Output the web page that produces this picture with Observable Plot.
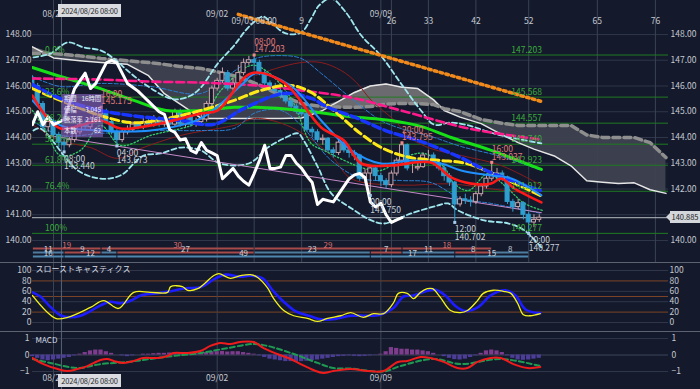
<!DOCTYPE html>
<html><head><meta charset="utf-8">
<script src="https://cdn.jsdelivr.net/npm/d3@7"></script>
<script src="https://cdn.jsdelivr.net/npm/@observablehq/plot@0.6"></script>
<style>
html,body{margin:0;padding:0;background:#141a2c;}
#chart{position:relative;width:700px;height:389px;background:#141a2c;overflow:hidden;font-family:"Noto Sans CJK JP","DejaVu Sans",sans-serif;}
#chart svg{position:absolute;left:0;overflow:visible;}
.cursor{position:absolute;left:58px;width:63px;height:13px;background:#d9dbe0;color:#2a2a2a;font-size:7.5px;line-height:13px;text-align:center;white-space:nowrap;overflow:hidden;letter-spacing:-0.2px;}
.sep{position:absolute;left:0;width:700px;height:1px;background:#5c626f;}
.pbox{position:absolute;left:670px;width:30px;height:12px;background:#d3d6db;color:#222;font-size:7.5px;line-height:12px;text-align:center;white-space:nowrap;}
.pbox:before{content:"";position:absolute;left:-4px;top:2px;border-top:4px solid transparent;border-bottom:4px solid transparent;border-right:4px solid #d3d6db;}
.info{position:absolute;left:62px;top:94px;width:41px;height:43px;background:rgba(140,100,195,0.62);color:#f0eef8;font-size:6.3px;line-height:10.5px;padding:0 2px;box-sizing:border-box;white-space:nowrap;}
.info div{display:flex;justify-content:space-between;}
</style></head><body><div id="chart"></div>
<script>
const FONT = '"Noto Sans CJK JP","DejaVu Sans",sans-serif';
// ---------- data ----------
const firstBar = -4;
const open = [146.3,146.0,145.3,144.4,144.6,144.1,143.8,143.7,143.9,144.2,144.5,144.4,144.7,144.9,145.0,144.6,144.2,143.9,144.2,144.3,144.5,144.4,144.6,144.5,144.7,144.5,
144.6,144.5,145.0,144.5,144.8,144.5,144.6,144.7,145.3,145.9,146.2,146.5,145.9,146.1,146.5,146.9,147.0,146.9,146.5,146.1,145.95,145.8,145.6,145.4,145.2,145.0,144.9,144.3,144.2,143.9,143.95,143.5,143.4,143.8,143.5,143.4,143.3,142.4,142.6,142.8,142.5,142.3,142.15,142.6,143.1,143.7,142.8,142.8,142.85,143.3,143.3,143.0,142.8,142.5,142.25,141.4,141.6,141.55,141.5,141.8,142.1,142.4,142.55,142.6,142.45,141.5,141.3,141.45,141.0,140.7,140.8];
const close = [146.0,145.3,144.4,144.6,144.1,143.8,143.7,143.9,144.2,144.5,144.4,144.7,144.9,145.0,144.6,144.2,143.9,144.2,144.3,144.5,144.4,144.6,144.5,144.7,144.5,144.6,
144.5,145.0,144.5,144.8,144.5,144.6,144.7,145.3,145.9,146.2,146.5,145.9,146.1,146.5,146.9,147.0,146.9,146.5,146.1,145.95,145.8,145.6,145.4,145.2,145.0,144.9,144.3,144.2,143.9,143.95,143.5,143.4,143.8,143.5,143.4,143.3,142.4,142.6,142.8,142.5,142.3,142.15,142.6,143.1,143.7,142.8,142.8,142.85,143.3,143.3,143.0,142.8,142.5,142.25,141.4,141.6,141.55,141.5,141.8,142.1,142.4,142.55,142.6,142.45,141.5,141.3,141.45,141.0,140.7,140.8,140.885];
const high = [146.4,146.1,145.4,144.8,144.7,144.2,143.95,144.0,144.3,144.6,144.7,144.8,145.0,145.175,145.1,144.7,144.3,144.3,144.45,144.6,144.6,144.75,144.7,144.85,144.8,144.7,
144.7,145.1,145.1,144.9,144.9,144.75,144.9,145.4,146.0,146.3,
146.7,146.6,146.3,146.8,147.05,147.15,147.203,147.0,146.6,146.2,
146.1,145.9,145.7,145.5,145.3,145.15,145.0,144.4,144.3,144.1,
144.0,143.6,143.9,143.9,143.6,143.5,143.35,142.75,142.9,142.9,
142.6,142.4,142.7,143.2,143.795,143.75,143.0,143.05,143.4,143.5,
143.4,143.1,142.9,142.6,142.3,141.7,141.8,141.7,141.9,142.2,
142.55,143.037,142.8,142.7,142.5,141.6,141.6,141.5,141.1,141.0,141.0];
const low = [145.9,145.2,144.3,144.2,144.0,143.6,143.44,143.6,143.8,144.1,144.3,144.3,144.6,144.8,144.5,144.1,143.673,143.8,144.1,144.2,144.3,144.3,144.4,144.4,144.4,144.4,
144.35,144.4,144.4,144.4,144.4,144.4,144.5,144.6,145.2,145.8,
146.1,145.8,145.8,146.0,146.4,146.8,146.6,146.4,146.0,145.8,
145.7,145.5,145.3,145.1,144.9,144.8,144.2,144.0,143.8,143.7,
143.4,143.2,143.3,143.4,143.2,143.1,142.3,142.2,141.75,142.3,
142.1,142.0,142.05,142.5,143.0,142.7,142.6,142.7,142.8,143.1,
142.9,142.7,142.3,142.1,140.702,141.3,141.4,141.3,141.4,141.7,
142.0,142.3,142.4,142.3,141.4,141.1,141.2,140.8,140.277,140.5,140.7];
const lastPrice = 140.885;

// moving averages & bands: [bar, price]
const maGreen = [[-4,146.72],[1.3,146.37],[5.7,146.10],[8.9,145.90],[15.2,145.44],[21.3,145.05],[27.9,145.05],[34.2,145.17],[38.3,145.17],[46.9,145.05],[56.4,144.81],[63.9,144.66],[69.6,144.43],[75.3,144.0],[82.9,143.50],[92.4,142.76]];
const maPink = [[-4,146.29],[8.9,146.25],[18.4,146.17],[27.9,146.13],[38.3,146.02],[46.9,145.83],[56.4,145.55],[65.8,145.05],[78.6,144.35],[92.4,143.92]];
const maYellow = [[-4,145.90],[1.3,145.44],[8.9,144.85],[14.6,144.58],[18.4,144.62],[27.9,145.05],[34.2,145.44],[39.3,145.83],[45.0,146.02],[48.8,145.75],[53.1,145.05],[58.1,144.16],[62.5,143.57],[67.6,143.22],[73.3,143.11],[78.0,143.0],[82.8,142.64],[92.2,141.75]];
const maBlue = [[-4,146.06],[1.3,145.51],[8.9,145.05],[16.5,144.81],[24.1,144.66],[30.4,144.51],[36.1,145.13],[43.6,145.71],[48.8,145.52],[52.0,145.17],[57.6,144.74],[62.9,144.27],[70.1,143.81],[77.1,143.22],[82.8,142.64],[92.2,141.94]];
const maRed = [[-4,145.63],[-1.5,144.85],[1.3,144.35],[5.1,144.47],[8.9,144.66],[12.7,144.35],[18.4,144.47],[27.9,144.93],[31.1,145.05],[37.4,146.49],[43.6,146.14],[50.7,144.39],[55.0,143.88],[58.3,142.99],[63.9,142.91],[71.5,143.03],[75.3,142.45],[79.1,142.21],[82.9,142.21],[84.8,142.41],[87.3,142.02],[92.4,141.48]];
const maSky = [[-4,145.44],[1.3,144.47],[8.9,144.27],[18.4,144.27],[27.9,144.74],[35.5,146.02],[38.3,146.49],[44.9,146.02],[50.7,144.66],[56.4,143.50],[62.0,142.99],[67.7,143.11],[73.4,142.99],[77.2,142.72],[82.9,142.52],[86.7,142.41],[92.4,141.75]];
const bbUpper = [[-3.8,147.11],[-0.6,147.26],[2.7,147.69],[5.7,147.50],[8.9,147.38],[11.4,147.07],[14.0,146.60],[17.1,146.10],[21.6,145.55],[23.5,145.48],[26.0,145.63],[27.9,145.94],[31.1,146.87],[34.2,147.57],[36.4,148.16],[38.3,148.54],[39.7,148.70],[41.2,148.47],[44.0,148.04],[46.9,148.08],[48.8,148.62],[50.3,149.13],[52.6,149.4],[55.4,148.85],[58.3,147.96],[62.0,147.18],[65.8,146.10],[69.6,145.05],[72.1,144.50],[75.3,144.58],[78.6,144.47],[81.6,144.27],[84.8,144.08],[92.4,143.77]];
const bbLower = [[-3.8,144.27],[-2.5,144.35],[2.7,143.11],[4.6,142.72],[7.6,142.45],[10.8,142.41],[13.3,142.60],[15.2,142.99],[17.1,143.30],[20.3,143.38],[24.1,143.61],[27.9,143.50],[31.1,143.03],[34.2,142.91],[37.4,143.03],[40.6,143.61],[43.6,143.96],[46.3,144.16],[47.4,143.88],[50.1,142.84],[52.6,141.83],[56.4,141.25],[60.2,140.78],[62.6,140.66],[67.7,141.05],[72.8,141.36],[74.7,141.44],[76.6,141.17],[81.6,140.78],[86.2,140.66],[89.2,140.39],[92.4,139.73]];
const sdUpper = [[-4,146.37],[1.3,145.98],[8.9,146.10],[18.4,145.98],[27.9,145.71],[33.6,146.49],[38.3,147.07],[43.1,147.18],[46.9,147.07],[50.7,146.49],[56.4,145.52],[62.0,144.66],[65.8,144.35],[71.5,144.04],[77.2,143.65],[84.8,143.26],[92.4,142.72]];
const sdLower = [[-4,144.66],[1.3,144.08],[8.9,144.16],[18.4,144.27],[27.9,144.27],[34.2,144.35],[38.3,144.97],[43.1,145.05],[46.9,144.47],[52.6,143.11],[58.3,142.41],[65.8,142.33],[71.5,142.25],[77.2,141.63],[82.9,141.44],[92.4,141.05]];
const dotted = [[-4,145.05],[-1.5,144.27],[1.3,143.30],[5.1,143.50],[8.9,144.47],[12.7,143.69],[18.4,144.08],[27.9,144.66],[31.7,145.83],[37.4,146.80],[40.2,146.60],[44.9,145.55],[48.8,143.77],[51.2,143.50],[58.8,142.80],[62.0,142.72],[66.4,143.23],[70.2,143.38],[74.0,142.84],[75.9,142.21],[78.6,141.94],[82.3,142.60],[85.4,142.14],[89.2,141.44],[92.6,141.17]];
const envUpper = [[38.3,146.41],[42.1,146.68],[46.9,146.91],[50.7,146.91],[54.5,146.60],[57.4,146.13],[60.2,145.44],[64.6,144.66],[67.8,143.96],[71.5,143.57],[77.2,143.30],[84.8,142.91],[92.4,142.14]];
const envLower = [[-4,144.5],[1.3,143.88],[7.0,143.61],[12.1,143.19],[16.5,143.57],[24.1,144.08],[34.2,144.47],[38.3,144.74],[45.0,144.4],[52.6,143.3],[56.4,142.4],[66.0,142.15],[75.0,142.2],[85.0,141.95],[92.4,141.8]];
// ichimoku cloud (leading spans)
const cloudBar = [-4,0,5,9,14,18,21,24,28,31,35,39,43,47,51,54,57,60,63,66,69,72,74,77,81,85,88,91,95,98,101,104,107,110,113,116];
const spanA = [147.52,147.09,146.98,146.91,146.84,146.4,145.7,145.3,144.74,144.74,144.74,144.74,144.74,144.76,145.05,145.4,145.75,146.0,146.08,145.95,145.90,145.46,145.05,144.79,144.54,144.1,143.8,143.55,143.27,142.9,142.32,142.26,142.21,142.24,141.97,141.83];
const spanB = [147.26,147.26,147.17,147.07,146.98,146.91,146.84,146.76,146.68,146.55,146.36,146.04,145.64,145.32,145.20,145.18,145.17,145.2,145.3,145.32,145.32,145.28,145.12,145.01,144.7,144.55,144.47,144.47,144.47,144.47,144.1,144.0,144.0,144.0,143.8,143.22];
const chikouShift = 26;
// trend lines
const orangeTrend = [[35.0,148.78],[92.4,145.40]];
const lilacTrend = [[-1.5,144.1],[92.4,141.08]];
// fibonacci
const fibPct = ["0.0%","23.6%","38.2%","50.0%","61.8%","76.4%","100%"];
const fibPrice = [147.203,145.568,144.557,143.740,142.923,141.912,140.277];
// swing annotations
const swingBar = [2,9,12,38,60,66,76,83,90];
const swingPrice = [143.440,145.175,143.673,147.203,141.750,143.795,140.702,143.037,140.277];
const swingTime = ["08:00","16:00","04:00","08:00","00:00","20:00","12:00","16:00","20:00"];
const swingKind = ["low","high","low","high","low","high","low","high","low"];
// swing count rows
const countRows = [
 ["r1",-4,9,"19","up"],["r1",9,38,"30","up"],["r1",38,66,"29","up"],["r1",66,83,"18","up"],
 ["r2",-4,2,"11","dn"],["r2",2,9,"9","up"],["r2",9,12,"4","dn"],["r2",12,38,"27","up"],["r2",38,60,"23","dn"],["r2",60,66,"7","up"],["r2",66,76,"11","dn"],["r2",76,83,"8","up"],["r2",83,90,"8","dn"],
 ["r3",-4,2,"16","dn"],["r3",2,12,"12","dn"],["r3",12,60,"49","dn"],["r3",60,76,"17","dn"],["r3",76,90,"15","dn"]];
// axes / time
const priceTicks = [140,141,142,143,144,145,146,147,148];
const rightPriceTicks = [140,142,143,144,145,146,147,148];
const dateBars = [0,31,62];
const dateLabels = ["08/26","09/02","09/09"];
const cursorBar = 1.5;
const countBars = [38,47,64,71,80,90,103,114];
const countLabels = ["09/03 08:00","9","26","33","42","52","65","76"];
// stochastics: [bar, value]
const stochK = [[-4,52],[0.4,8],[2.7,10],[7.0,29],[9.5,42],[12.3,27],[15.2,58],[18.4,58],[21.6,58],[22.2,69],[24.4,69],[25.4,62],[27.3,65],[30.3,90],[31.3,94],[33.5,85],[35.4,90],[37.3,92],[38.6,87],[40.5,67],[41.7,46],[43.6,23],[45.5,13],[48.1,8],[50.0,2],[51.9,8],[54.4,13],[56.3,19],[58.7,10],[60.6,17],[62.5,17],[64.4,38],[65.3,56],[67.0,56],[68.2,46],[69.5,58],[70.8,65],[71.8,65],[73.3,48],[75.2,23],[77.1,19],[78.4,23],[80.3,42],[81.4,56],[83.3,62],[85.2,60],[86.6,56],[87.9,37],[89.0,15],[90.3,13],[92.2,17]];
const stochD = [[-4,58],[-2.5,50],[-0.6,30],[1.3,14],[3.2,10],[5.1,13],[7.0,22],[8.9,33],[10.8,40],[12.7,37],[14.6,42],[16.5,52],[19.3,56],[22.2,60],[25.0,66],[27.8,68],[30.7,85],[32.6,92],[35.4,88],[37.3,90],[39.6,85],[41.5,62],[43.6,40],[45.8,22],[48.7,12],[50.6,6],[53.4,7],[56.3,13],[59.1,13],[61.9,15],[64.4,28],[66.3,50],[68.2,52],[70.5,60],[72.3,63],[74.2,52],[76.1,32],[78.0,22],[80.5,30],[82.8,52],[85.6,62],[87.5,52],[89.4,25],[92.2,18]];
// MACD
const macdLine = [[-4,-0.18],[-1.9,-0.55],[0.8,-0.85],[2.7,-0.97],[4.5,-0.85],[6.4,-0.67],[8.9,-0.3],[10.2,-0.24],[11.4,-0.36],[13.3,-0.48],[15.2,-0.36],[17.0,-0.18],[19.7,-0.18],[21.6,-0.06],[22.7,0.12],[25.4,0.12],[27.8,0.24],[29.7,0.55],[31.6,0.73],[33.5,0.67],[35.4,0.79],[37.9,0.79],[39.8,0.42],[42.4,0.06],[44.9,-0.24],[46.8,-0.55],[49.2,-0.91],[51.1,-1.09],[53.0,-0.97],[56.2,-0.85],[59.5,-0.97],[62.5,-0.97],[65.2,-0.42],[67.0,-0.36],[69.5,-0.12],[71.4,-0.18],[73.9,-0.42],[76.5,-0.79],[78.4,-0.79],[80.3,-0.42],[82.8,-0.18],[84.7,-0.18],[87.1,-0.55],[89.8,-0.79],[92.2,-0.73]];
const macdSignal = [[-4,-0.24],[-0.6,-0.48],[4.5,-0.79],[8.9,-0.55],[14.0,-0.42],[18.4,-0.24],[22.7,-0.06],[27.8,0.12],[33.0,0.42],[37.9,0.67],[40.5,0.55],[45.5,0.06],[50.0,-0.48],[53.0,-0.79],[56.2,-0.82],[62.5,-1.0],[65.7,-0.67],[72.0,-0.24],[77.1,-0.55],[84.7,-0.24],[92.2,-0.67]];
const macdHist = [-0.1,-0.2,-0.3,-0.35,-0.3,-0.25,-0.2,-0.15,-0.05,0.05,
 0.15,0.25,0.3,0.3,0.2,0.1,0.0,
 -0.05,-0.1,-0.05,0.0,0.05,0.05,0.08,0.1,0.1,
 0.12,0.1,0.1,0.08,0.06,0.05,0.1,0.15,0.2,0.2,0.22,0.18,0.2,0.2,0.15,0.1,0.05,
 -0.05,-0.15,-0.25,-0.3,-0.35,-0.4,-0.4,-0.42,-0.4,-0.38,-0.35,-0.3,-0.25,-0.2,-0.15,-0.1,-0.08,-0.05,-0.08,-0.1,-0.08,-0.05,-0.02,
 0.05,0.2,0.45,0.4,0.35,0.35,0.3,0.3,0.25,0.2,0.1,0.0,
 -0.1,-0.2,-0.28,-0.3,-0.25,-0.15,-0.05,
 0.1,0.25,0.3,0.25,0.15,
 -0.05,-0.2,-0.3,-0.32,-0.3,-0.25,-0.2];

// ---------- derived tables ----------
const candles = close.map((c,k)=>({i:firstBar+k,o:open[k],h:high[k],l:low[k],c}));
const cloud = cloudBar.map((i,k)=>({i,a:spanA[k],b:spanB[k]}));
const fibs = fibPrice.map((p,k)=>({p,pct:fibPct[k]}));
const swings = swingBar.map((i,k)=>({i,p:swingPrice[k],t:swingTime[k],kind:swingKind[k]}));
const rows = countRows.map(([row,a,b,n,dir])=>({row,a,b,n,dir}));
const dates = dateBars.map((i,k)=>({i,label:dateLabels[k]}));
const counts = countBars.map((i,k)=>({i,label:countLabels[k]}));
const hist = macdHist.map((v,k)=>({i:firstBar+k,v}));

const xDomain = [-3.98,116.48];
const BG = "#141a2c", GRID = "#2f3649", VLINE = "#3b4254", AXIS = "#c4c8d0";
const base = {width:700,marginLeft:32,marginRight:32,marginTop:0,marginBottom:0,
  x:{domain:xDomain,axis:null,label:null},
  style:{background:"transparent",color:AXIS,fontSize:"8.5px",fontFamily:FONT}};
const L = (data,stroke,w,dash,extra={}) => Plot.line(data,{x:d=>d[0],y:d=>d[1],stroke,strokeWidth:w,strokeDasharray:dash,curve:"catmull-rom",clip:true,...extra});
const vlines = [Plot.ruleX(dateBars,{stroke:VLINE,strokeWidth:1}),Plot.ruleX([cursorBar],{stroke:"#59627a",strokeWidth:1})];

const chart = document.getElementById("chart");
function place(svg,top){svg.style.top=top+"px";chart.appendChild(svg);return svg;}

// ---------- main price panel ----------
const upC = "#c9a3a9", dnC = "#2f9fd0";
const main = Plot.plot({...base,height:262,
  y:{domain:[139.146,149.320],axis:null,label:null},
  marks:[
    Plot.ruleY(priceTicks,{stroke:GRID}),
    ...vlines,
    Plot.ruleX(countBars,{stroke:VLINE}),
    Plot.areaY(cloud,{x:"i",y1:"b",y2:"a",fill:"#3e4250",fillOpacity:0.95,clip:true}),
    Plot.areaY(cloud,{x:"i",y1:"b",y2:d=>Math.max(d.a,d.b),fill:"#727276",fillOpacity:0.85,clip:true}),
    Plot.ruleY(fibs,{y:"p",stroke:"#1f7a22",strokeWidth:1}),
    Plot.ruleY([lastPrice],{stroke:"#b9bdc5",strokeWidth:1}),
    Plot.line(cloud,{x:"i",y:"a",stroke:"#e6e6e6",strokeWidth:1.5,clip:true}),
    Plot.line(cloud,{x:"i",y:"b",stroke:"#8e8e8e",strokeWidth:3.5,strokeDasharray:"7 4",clip:true}),
    L(envUpper,"#8a1c1c",1,null),
    L(envLower,"#8a1c1c",1,null),
    L(sdUpper,"#2a7fd4",1,"4 2"),
    L(sdLower,"#2a7fd4",1,"4 2"),
    L(bbUpper,"#9fe6ee",1.8,"5 3"),
    L(bbLower,"#9fe6ee",1.8,"5 3"),
    L(dotted,"#35c86a",1.3,"1.5 2"),
    Plot.line(lilacTrend,{x:d=>d[0],y:d=>d[1],stroke:"#c58ac8",strokeWidth:1,clip:true}),
    Plot.ruleX(candles,{x:"i",y1:"l",y2:"h",stroke:d=>d.c>=d.o?upC:dnC,strokeWidth:1,clip:true}),
    Plot.rectY(candles,{x1:d=>d.i-0.38,x2:d=>d.i+0.38,y1:"o",y2:"c",fill:d=>d.c>=d.o?BG:dnC,stroke:d=>d.c>=d.o?upC:dnC,strokeWidth:1,clip:true}),
    L(maGreen,"#18e018",3,null),
    L(maPink,"#ff1a8c",2.6,"8 4"),
    L(maYellow,"#ffe81a",3,"8 4"),
    L(maBlue,"#1836ff",3.5,"8 4"),
    L(maSky,"#2090ff",2,null),
    L(maRed,"#ff1a1a",2.6,null),
    Plot.line(candles.filter(d=>d.i-chikouShift>=firstBar),{x:d=>d.i-chikouShift,y:"c",stroke:"#ffffff",strokeWidth:3,strokeLinejoin:"round",clip:true}),
    Plot.line(orangeTrend,{x:d=>d[0],y:d=>d[1],stroke:"#f08a1c",strokeWidth:3.5,strokeDasharray:"2.5 3.5",clip:true}),
    Plot.text(fibs,{x:()=>89.6,y:"p",text:d=>d.p.toFixed(3),dy:-5,fill:"#3aaa3a",fontSize:8.5}),
    Plot.text(fibs,{x:()=>-1.6,y:"p",text:"pct",dy:-5,textAnchor:"start",fill:"#3aaa3a",fontSize:8.5}),
    Plot.dot(swings,{x:"i",y:"p",symbol:"square",r:1.7,fill:d=>d.kind==="high"?"#f08a8a":"#a8cbe8"}),
    Plot.text(swings.filter(d=>d.kind==="high"),{x:"i",y:"p",text:"t",dy:-13,textAnchor:"start",fill:"#e27a7a",fontSize:8.5}),
    Plot.text(swings.filter(d=>d.kind==="high"),{x:"i",y:"p",text:d=>d.p.toFixed(3),dy:-5.5,textAnchor:"start",fill:"#e27a7a",fontSize:8.5}),
    Plot.text(swings.filter(d=>d.kind==="low"),{x:"i",y:"p",text:"t",dy:7,textAnchor:"start",fill:"#c8d0da",fontSize:8.5}),
    Plot.text(swings.filter(d=>d.kind==="low"),{x:"i",y:"p",text:d=>d.p.toFixed(3),dy:14.5,textAnchor:"start",fill:"#c8d0da",fontSize:8.5}),
    Plot.text(dates,{x:"i",text:"label",frameAnchor:"top",dy:10,fill:AXIS}),
    Plot.text(counts,{x:"i",text:"label",frameAnchor:"top",dy:17,fill:AXIS}),
    Plot.axisY(priceTicks,{anchor:"left",tickSize:0,tickPadding:1,tickFormat:d3.format(".2f"),fill:AXIS,label:null}),
    Plot.axisY(rightPriceTicks,{anchor:"right",tickSize:0,tickPadding:2,tickFormat:d3.format(".2f"),fill:AXIS,label:null})
  ]});
place(main,0);

// ---------- swing count rows ----------
const rowsPlot = Plot.plot({...base,height:22,
  y:{type:"point",domain:["r1","r2","r3"],range:[6,18],axis:null,label:null},
  marks:[
    Plot.ruleY(rows,{y:"row",x1:"a",x2:"b",stroke:d=>d.row==="r1"?"#a84a4a":(d.row==="r3"?"#4f86ad":(d.dir==="up"?"#a84a4a":"#4f7c9e")),strokeWidth:2,insetLeft:1}),
    Plot.text(rows,{x:d=>(d.a+d.b)/2,y:"row",text:"n",dy:-3,fill:d=>d.row==="r1"?"#dc6f6f":"#c5ccd6",fontSize:8})
  ]});
place(rowsPlot,240);

// ---------- stochastics ----------
const stochTicks = [0,20,40,60,80,100];
const stoch = Plot.plot({...base,height:69,
  y:{domain:[-17.3,115.4],axis:null,label:null},
  marks:[
    Plot.ruleY([0,40,60,100],{stroke:GRID}),
    Plot.ruleY([20,50,80],{stroke:"#7b4426"}),
    ...vlines,
    L(stochD,"#1c1cff",2.6,null),
    L(stochK,"#f2f21e",1.3,null),
    Plot.text(["スローストキャスティクス"],{frameAnchor:"top-left",dx:3,dy:4,fill:"#d8dce4",fontSize:8,textAnchor:"start"}),
    Plot.axisY(stochTicks,{anchor:"left",tickSize:0,tickPadding:1,fill:AXIS,label:null}),
    Plot.axisY(stochTicks,{anchor:"right",tickSize:0,tickPadding:1,fill:AXIS,label:null})
  ]});
place(stoch,262);

// ---------- MACD ----------
const macdTicks = [-1,0,1];
const macd = Plot.plot({...base,height:58,
  y:{domain:[-2.09,1.424],axis:null,label:null},
  marks:[
    Plot.ruleY([-1,1],{stroke:GRID}),
    Plot.ruleY([0],{stroke:"#3e4558"}),
    ...vlines,
    Plot.rectY(hist,{x1:d=>d.i-0.4,x2:d=>d.i+0.4,y1:0,y2:"v",fill:d=>d.v>=0?"#7d3d8c":"#4c3d98"}),
    L(macdSignal,"#1f9a52",2,"5 3"),
    L(macdLine,"#ee1c1c",2,null),
    Plot.text(["MACD"],{frameAnchor:"top-left",dx:3,dy:6,fill:"#d8dce4",fontSize:8,textAnchor:"start"}),
    Plot.text(dates,{x:"i",text:"label",frameAnchor:"bottom",dy:-9,fill:AXIS}),
    Plot.axisY(macdTicks,{anchor:"left",tickSize:0,tickPadding:3,fill:AXIS,label:null}),
    Plot.axisY(macdTicks,{anchor:"right",tickSize:0,tickPadding:3,fill:AXIS,label:null})
  ]});
place(macd,331);

// ---------- overlays ----------
function div(cls,style,html){const d=document.createElement("div");d.className=cls;Object.assign(d.style,style);d.innerHTML=html;chart.appendChild(d);return d;}
div("sep",{top:"262px"},"");
div("sep",{top:"331px"},"");
div("cursor",{top:"4px"},"2024/08/26 08:00");
div("cursor",{top:"374px"},"2024/08/26 08:00");
const yMain = main.scale("y");
div("pbox",{top:(yMain.apply(lastPrice)-6)+"px"},lastPrice.toFixed(3));
div("info",{},"<div><span>期間</span><span>16時間</span></div><div><span>値幅</span><span>3.045</span></div><div><span>騰落率</span><span>2.161</span></div><div><span>本数</span><span>62</span></div>");
</script></body></html>
